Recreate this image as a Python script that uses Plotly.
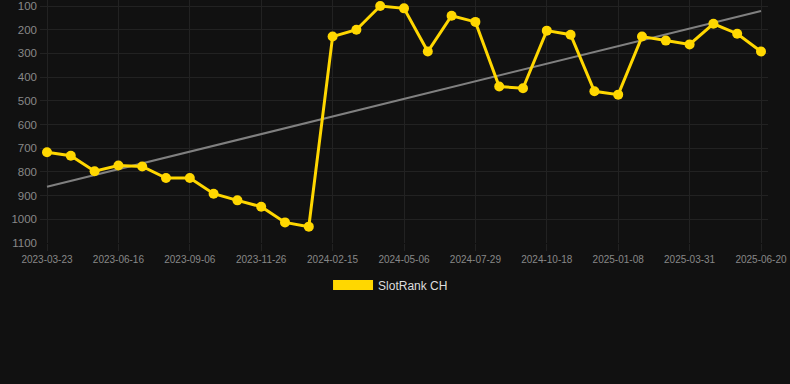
import plotly.graph_objects as go

dates = ["2023-03-23", "2023-04-20", "2023-05-19", "2023-06-16", "2023-07-14",
         "2023-08-09", "2023-09-06", "2023-10-04", "2023-10-30", "2023-11-26",
         "2023-12-24", "2024-01-20", "2024-02-15", "2024-03-13", "2024-04-09",
         "2024-05-06", "2024-06-03", "2024-07-01", "2024-07-29", "2024-08-25",
         "2024-09-21", "2024-10-18", "2024-11-14", "2024-12-11", "2025-01-08",
         "2025-02-05", "2025-03-03", "2025-03-31", "2025-04-27", "2025-05-24",
         "2025-06-20"]
ranks = [717, 732, 797, 773, 777, 826, 826, 892, 920, 947,
         1013, 1031, 229, 200, 100, 110, 292, 141, 167, 440,
         447, 204, 221, 460, 474, 229, 246, 262, 175, 217,
         292]
tick_labels = dates[::3]
trend_x = [dates[0], dates[-1]]
trend_y = [863, 121]
y_ticks = [100, 200, 300, 400, 500, 600, 700, 800, 900, 1000, 1100]

fig = go.Figure()
fig.add_trace(go.Scatter(x=trend_x, y=trend_y, mode="lines",
                         line=dict(color="#808080", width=2),
                         showlegend=False, hoverinfo="skip"))
fig.add_trace(go.Scatter(x=dates, y=ranks, mode="lines+markers",
                         line=dict(color="#FFD700", width=3),
                         marker=dict(color="#FFD700", size=10),
                         showlegend=False))
fig.add_trace(go.Scatter(x=[None], y=[None], mode="lines",
                         line=dict(color="#FFD700", width=12),
                         name="SlotRank CH", showlegend=True))

fig.update_layout(
    width=790, height=384,
    paper_bgcolor="#111111", plot_bgcolor="#111111",
    margin=dict(l=40, r=22, t=0, b=141),
    font=dict(family="Liberation Sans, Arial, sans-serif", color="#888888"),
    legend=dict(orientation="h", x=0.4815, xanchor="center", y=-0.173, yanchor="middle",
                font=dict(size=12, color="#dddddd"), itemwidth=40,
                bgcolor="rgba(0,0,0,0)"),
    xaxis=dict(type="category", categoryorder="array", categoryarray=dates,
               tickvals=tick_labels, ticktext=tick_labels,
               range=[-0.294, 30.294], showgrid=True, gridcolor="#222222",
               zeroline=False, showline=False, tickfont=dict(size=10, color="#888888"),
               ticks="outside", ticklen=7, tickcolor="#222222", tickangle=0),
    yaxis=dict(range=[1100, 74.7], tickvals=y_ticks, showgrid=True, gridcolor="#222222",
               zeroline=False, showline=False, tickfont=dict(size=11.5, color="#888888"),
               ticks="", ticklabeloverflow="allow", ticklabelstandoff=2),
)

fig.write_html("out.html", config={"displayModeBar": False},
               post_script="document.body.style.margin='0';document.body.style.background='#111111';")
